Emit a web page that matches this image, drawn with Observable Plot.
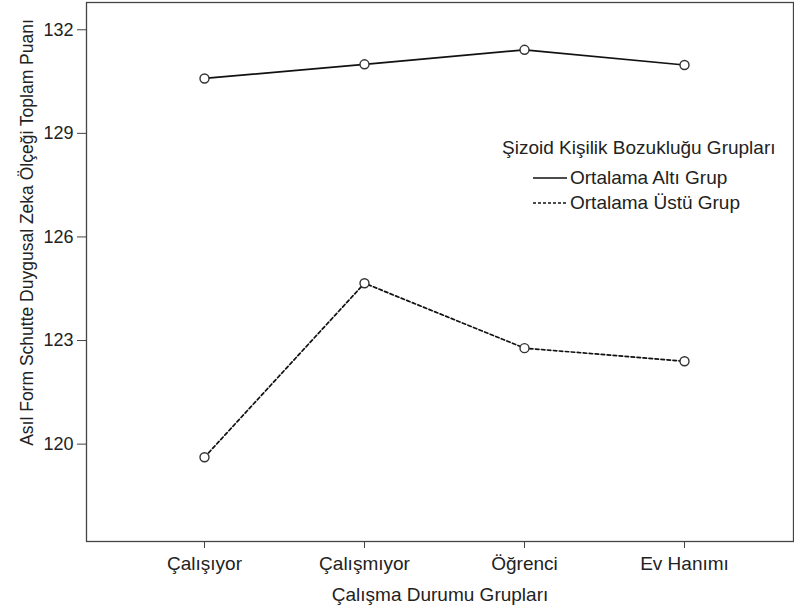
<!DOCTYPE html>
<html><head><meta charset="utf-8">
<script src="https://cdn.jsdelivr.net/npm/d3@7"></script>
<script src="https://cdn.jsdelivr.net/npm/@observablehq/plot@0.6"></script>
<style>
body{margin:0;background:#fff;}
#chart{position:relative;width:794px;height:614px;font-family:"Liberation Sans",Arial,sans-serif;color:#222;}
#legend{position:absolute;left:490px;top:136px;font-size:19px;line-height:24px;}
#legend .title{position:absolute;left:12px;top:0;white-space:nowrap;}
#legend .item{position:absolute;left:43px;white-space:nowrap;display:flex;align-items:center;}
#legend .item svg{margin-right:3px;}
</style></head><body><div id="chart"></div>
<script>
const categories = ["Çalışıyor", "Çalışmıyor", "Öğrenci", "Ev Hanımı"];
const seriesNames = ["Ortalama Altı Grup", "Ortalama Üstü Grup"];
const altiValues = [130.59, 131.0, 131.42, 130.98];
const ustuValues = [119.62, 124.66, 122.78, 122.40];
const yTicks = [120, 123, 126, 129, 132];
const xTitle = "Çalışma Durumu Grupları";
const yTitle = "Asıl Form Schutte Duygusal Zeka Ölçeği Toplam Puanı";
const legendTitle = "Şizoid Kişilik Bozukluğu Grupları";

const altiRows = categories.map((c, i) => ({cat: c, val: altiValues[i], grp: seriesNames[0]}));
const ustuRows = categories.map((c, i) => ({cat: c, val: ustuValues[i], grp: seriesNames[1]}));

const ink = "#222";
const plot = Plot.plot({
  width: 794, height: 614,
  marginLeft: 86, marginRight: 1, marginTop: 2, marginBottom: 73,
  style: {fontFamily: "'Liberation Sans', Arial, sans-serif", fontSize: "19px", color: ink, background: "#fff", overflow: "visible"},
  x: {type: "point", domain: categories, padding: 0.6957, align: 0.518},
  y: {domain: [117.18, 132.79]},
  marks: [
    Plot.frame({stroke: "#444", strokeWidth: 1.3}),
    Plot.axisY({ticks: yTicks, tickSize: 9, tickPadding: 4, tickFormat: d => String(d), label: null, stroke: "#444", fontSize: 18}),
    Plot.axisX({tickSize: 7, tickPadding: 8, label: null, stroke: "#444"}),
    Plot.line(altiRows, {x: "cat", y: "val", stroke: "#111", strokeWidth: 1.7}),
    Plot.line(ustuRows, {x: "cat", y: "val", stroke: "#111", strokeWidth: 1.7, strokeDasharray: "3.5,2.5"}),
    Plot.dot(altiRows.concat(ustuRows), {x: "cat", y: "val", r: 4.5, fill: "#fff", stroke: "#333", strokeWidth: 1.4}),
    Plot.text([xTitle], {frameAnchor: "bottom", dy: 59, text: d => d, fontSize: 19, fill: ink}),
    Plot.text([yTitle], {frameAnchor: "top-left", dx: -66, dy: 230, rotate: -90, textAnchor: "middle", text: d => d, fontSize: 17.5, fill: ink})
  ]
});
const chart = document.getElementById("chart");
chart.appendChild(plot);

const legend = document.createElement("div");
legend.id = "legend";
const t = document.createElement("div");
t.className = "title";
t.textContent = legendTitle;
legend.appendChild(t);
seriesNames.forEach((name, i) => {
  const item = document.createElement("div");
  item.className = "item";
  item.style.top = (30 + i * 25) + "px";
  const dash = i === 0 ? "" : "stroke-dasharray='3,2'";
  item.innerHTML = `<svg width="34" height="10"><line x1="0" x2="34" y1="5" y2="5" stroke="#111" stroke-width="1.7" ${dash}/></svg><span></span>`;
  item.querySelector("span").textContent = name;
  legend.appendChild(item);
});
chart.appendChild(legend);
</script>
</body></html>
